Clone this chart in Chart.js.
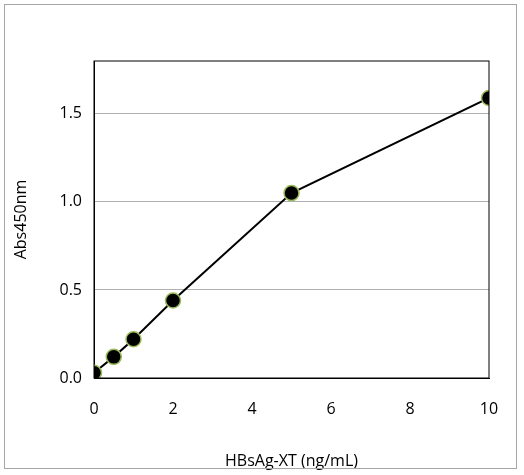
<!DOCTYPE html>
<html><head><meta charset="utf-8">
<script src="https://cdn.jsdelivr.net/npm/chart.js@4"></script>
<style>
html,body{margin:0;padding:0;background:#fff;}
#wrap{position:relative;width:524px;height:475px;}
#frame{position:absolute;left:4px;top:4px;width:513px;height:465px;border:1px solid #a6a6a6;box-sizing:border-box;pointer-events:none;}
</style></head><body>
<div id="wrap"><canvas id="c" width="524" height="475"></canvas><div id="frame"></div></div>
<script>
const concentrations = [0, 0.5, 1, 2, 5, 10];
const absorbance = [0.03, 0.12, 0.22, 0.44, 1.05, 1.59];
const xTitle = 'HBsAg-XT (ng/mL)';
const yTitle = 'Abs450nm';
const font = {family: '"Open Sans", "Liberation Sans", sans-serif', size: 16};
new Chart(document.getElementById('c'), {
  type: 'scatter',
  data: {datasets: [{
    data: concentrations.map((x, i) => ({x: x, y: absorbance[i]})),
    showLine: true, borderColor: '#000', borderWidth: 2,
    pointBackgroundColor: '#000', pointBorderColor: '#9bbb59', pointBorderWidth: 1.5,
    pointRadius: 7.5
  }]},
  options: {
    responsive: false, animation: false,
    layout: {padding: {top: 61, right: 35, left: 8, bottom: 0}},
    plugins: {legend: {display: false}, tooltip: {enabled: false}},
    scales: {
      x: {type: 'linear', min: 0, max: 10,
        ticks: {stepSize: 2, color: '#000', font: font, padding: 14},
        grid: {display: false, drawTicks: true},
        border: {color: '#000', width: 1},
        title: {display: true, text: xTitle, color: '#000', font: font, padding: {top: 8}},
        afterFit: s => { s.height = 97; }
      },
      y: {min: 0, max: 1.8,
        afterBuildTicks: s => { s.ticks = s.ticks.filter(t => Math.abs(t.value * 2 - Math.round(t.value * 2)) < 1e-6); },
        ticks: {stepSize: 0.5, color: '#000', font: font, padding: 12, callback: v => v.toFixed(1)},
        grid: {color: '#b0b0b0', drawTicks: false},
        border: {color: '#000', width: 1},
        title: {display: true, text: yTitle, color: '#000', font: font, padding: {bottom: 8}},
        afterFit: s => { s.width = 86; }
      }
    }
  },
  plugins: [{id: 'box', afterDraw(c) {
    const a = c.chartArea, g = c.ctx; g.save(); g.strokeStyle = '#000'; g.lineWidth = 1;
    g.strokeRect(a.left, a.top, a.right - a.left, a.bottom - a.top); g.restore();
  }}]
});
</script></body></html>
